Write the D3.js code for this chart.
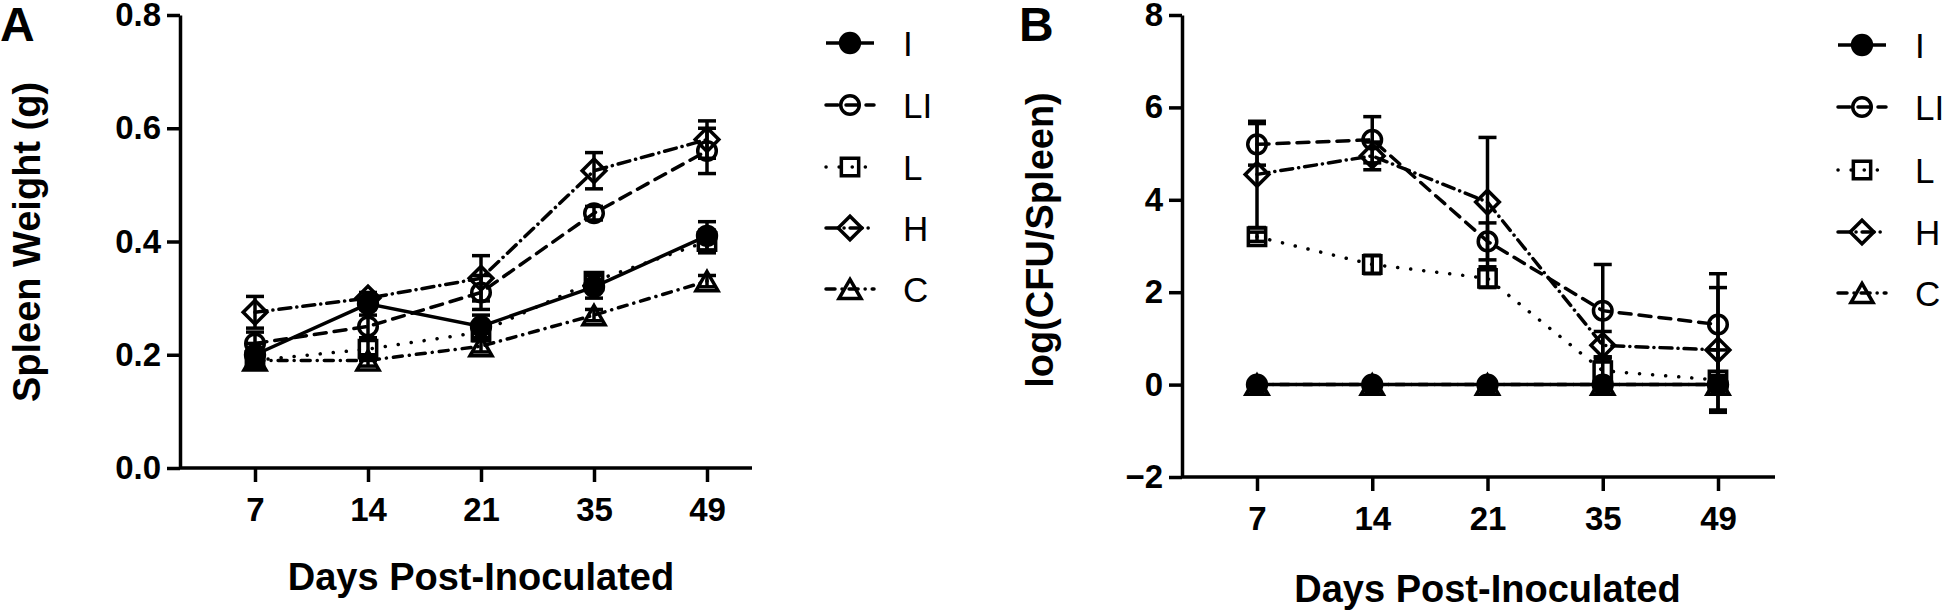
<!DOCTYPE html>
<html lang="en">
  <head>
    <meta charset="utf-8">
    <title>Spleen weight and CFU</title>
    <script src="https://cdnjs.cloudflare.com/ajax/libs/d3/7.8.5/d3.min.js"></script>
    <style>
      body { margin: 0; background: #fff; }
      svg text { font-family: "Liberation Sans", Arial, sans-serif; fill: #000; }
      .tick text { font-size: 33px; font-weight: bold; }
      .axis path, .axis line { stroke: #000; stroke-width: 3.5px; }
    </style>
  </head>
  <body>
    <svg width="1943" height="612"></svg>
    <script>
    // x categories and groups
    var days = ["7", "14", "21", "35", "49"];
    var groups = ["I", "LI", "L", "H", "C"];

    // panel A - spleen weight (g), mean and error
    var weightI   = [0.20, 0.29, 0.25, 0.32, 0.41];
    var weightLI  = [0.22, 0.25, 0.31, 0.45, 0.56];
    var weightL   = [0.19, 0.21, 0.24, 0.33, 0.40];
    var weightH   = [0.275, 0.30, 0.335, 0.525, 0.58];
    var weightC   = [0.19, 0.19, 0.215, 0.27, 0.33];
    var weightIErr  = [0.02, 0.01, 0.02, 0.02, 0.025];
    var weightLIErr = [0.02, 0.02, 0.03, 0.012, 0.04];
    var weightLErr  = [0.01, 0.02, 0.01, 0.01, 0.02];
    var weightHErr  = [0.028, 0.01, 0.04, 0.032, 0.033];
    var weightCErr  = [0.01, 0.01, 0.01, 0.01, 0.01];

    // panel B - log(CFU/spleen), mean and error
    var cfuI   = [0, 0, 0, 0, 0];
    var cfuLI  = [5.2, 5.3, 3.1, 1.6, 1.3];
    var cfuL   = [3.2, 2.6, 2.3, 0.3, 0.1];
    var cfuH   = [4.55, 4.95, 3.95, 0.85, 0.75];
    var cfuC   = [0, 0, 0, 0, 0];
    var cfuIErr  = [0, 0, 0, 0, 0];
    var cfuLIErr = [0.45, 0.5, 0.4, 1.0, 1.1];
    var cfuLErr  = [0.1, 0.2, 0.2, 0.3, 0.65];
    var cfuHErr  = [1.15, 0.3, 1.4, 0.3, 1.35];
    var cfuCErr  = [0, 0, 0, 0, 0];

    var yTicksA = [0, 0.2, 0.4, 0.6, 0.8];
    var yTicksB = [-2, 0, 2, 4, 6, 8];

    // look of each group
    var dash = {I: null, LI: "12,8", L: "0.1,13", H: "12,6,0.1,6", C: "9,7,0.1,7"};
    var shape = {I: d3.symbolCircle, LI: d3.symbolCircle, L: d3.symbolSquare, H: d3.symbolSquare, C: d3.symbolTriangle};
    var size = {I: 280, LI: 270, L: 300, H: 280, C: 210};
    var rot = {I: 0, LI: 0, L: 0, H: 45, C: 0};
    // triangle is centred on its box, not its centroid
    function shift(name) {
      if (name !== "C") return 0;
      var side = Math.sqrt(size.C * 4 / Math.sqrt(3));
      return side * Math.sqrt(3) / 2 / 6;
    }

    var svg = d3.select("svg");

    function drawPanel(p) {
      var x = d3.scalePoint().domain(days).range([p.x0, p.x1]);
      var y = d3.scaleLinear().domain(p.yDomain).range([p.yBottom, p.yTop]);

      var series = groups.map(function(g, i) {
        return {name: g, values: days.map(function(d, j) {
          return {day: d, v: p.means[i][j], e: p.errs[i][j]};
        })};
      });

      // axes
      svg.append("g")
        .attr("class", "axis")
        .attr("transform", "translate(" + p.axisX + ",0)")
        .call(d3.axisLeft(y).tickValues(p.yTicks).tickFormat(p.fmt).tickSize(13).tickSizeOuter(0).tickPadding(6));

      var xa = svg.append("g")
        .attr("class", "axis")
        .attr("transform", "translate(0," + p.yBottom + ")")
        .call(d3.axisBottom(x).tickSize(14).tickSizeOuter(0).tickPadding(9));
      xa.select(".domain").remove();
      xa.selectAll(".tick text").attr("dy", "0.9em");
      svg.append("line")
        .attr("x1", p.axisX).attr("x2", p.axisEnd)
        .attr("y1", p.yBottom).attr("y2", p.yBottom)
        .attr("stroke", "#000").attr("stroke-width", 3.5);

      var line = d3.line()
        .x(function(d) { return x(d.day); })
        .y(function(d) { return y(d.v); });

      series.forEach(function(s) {
        var g = svg.append("g");
        // error bars
        s.values.forEach(function(d) {
          if (d.e <= 0) return;
          var cx = x(d.day), top = y(d.v + d.e), bot = y(d.v - d.e);
          g.append("line").attr("x1", cx).attr("x2", cx).attr("y1", top).attr("y2", bot)
            .attr("stroke", "#000").attr("stroke-width", 3.5);
          [top, bot].forEach(function(yy) {
            g.append("line").attr("x1", cx - 9).attr("x2", cx + 9).attr("y1", yy).attr("y2", yy)
              .attr("stroke", "#000").attr("stroke-width", 3.5);
          });
        });
        g.append("path")
          .datum(s.values)
          .attr("d", line)
          .attr("fill", "none")
          .attr("stroke", "#000")
          .attr("stroke-width", 3.5)
          .attr("stroke-linecap", s.name === "I" ? "butt" : "round")
          .attr("stroke-dasharray", dash[s.name]);
        g.selectAll(".pt")
          .data(s.values)
          .enter().append("path")
          .attr("d", d3.symbol().type(shape[s.name]).size(size[s.name]))
          .attr("transform", function(d) { return "translate(" + x(d.day) + "," + (y(d.v) + shift(s.name)) + ") rotate(" + rot[s.name] + ")"; })
          .attr("fill", s.name === "I" ? "#000" : "none")
          .attr("stroke", "#000")
          .attr("stroke-width", 3.5);
      });

      // legend
      var lg = svg.append("g");
      groups.forEach(function(name, i) {
        var ly = p.legendY[i];
        lg.append("line")
          .attr("x1", p.legendX).attr("x2", p.legendX + 48)
          .attr("y1", ly).attr("y2", ly)
          .attr("stroke", "#000").attr("stroke-width", 3.5)
          .attr("stroke-linecap", name === "I" ? "butt" : "round")
          .attr("stroke-dasharray", dash[name]);
        lg.append("path")
          .attr("d", d3.symbol().type(shape[name]).size(size[name]))
          .attr("transform", "translate(" + (p.legendX + 24) + "," + (ly + shift(name)) + ") rotate(" + rot[name] + ")")
          .attr("fill", name === "I" ? "#000" : "none")
          .attr("stroke", "#000").attr("stroke-width", 3.5);
        lg.append("text")
          .attr("x", p.legendX + 77).attr("y", ly)
          .attr("dy", "0.36em")
          .style("font-size", "35px")
          .text(name);
      });

      // titles
      svg.append("text")
        .attr("transform", "translate(" + p.yTitleX + "," + p.yTitleY + ") rotate(-90)")
        .style("text-anchor", "middle")
        .style("font-size", "38px").style("font-weight", "bold")
        .text(p.yTitle);
      svg.append("text")
        .attr("x", x("21")).attr("y", p.xTitleY)
        .style("text-anchor", "middle")
        .style("font-size", "38px").style("font-weight", "bold")
        .text("Days Post-Inoculated");
      svg.append("text")
        .attr("x", p.letterX).attr("y", 41)
        .style("font-size", "48px").style("font-weight", "bold")
        .text(p.letter);
    }

    drawPanel({
      letter: "A", letterX: 0,
      means: [weightI, weightLI, weightL, weightH, weightC],
      errs: [weightIErr, weightLIErr, weightLErr, weightHErr, weightCErr],
      yDomain: [0, 0.8], yTicks: yTicksA, fmt: d3.format(".1f"),
      x0: 255, x1: 707, axisX: 180, axisEnd: 752,
      yTop: 15, yBottom: 468,
      legendX: 826, legendY: [43, 105, 167, 228, 289],
      yTitle: "Spleen Weight (g)", yTitleX: 40, yTitleY: 242, xTitleY: 590
    });

    drawPanel({
      letter: "B", letterX: 1019,
      means: [cfuI, cfuLI, cfuL, cfuH, cfuC],
      errs: [cfuIErr, cfuLIErr, cfuLErr, cfuHErr, cfuCErr],
      yDomain: [-2, 8], yTicks: yTicksB, fmt: d3.format("d"),
      x0: 1257, x1: 1718, axisX: 1182, axisEnd: 1775,
      yTop: 15, yBottom: 477,
      legendX: 1838, legendY: [45, 107, 170, 232, 293],
      yTitle: "log(CFU/Spleen)", yTitleX: 1053, yTitleY: 240, xTitleY: 602
    });
    </script>
  </body>
</html>
